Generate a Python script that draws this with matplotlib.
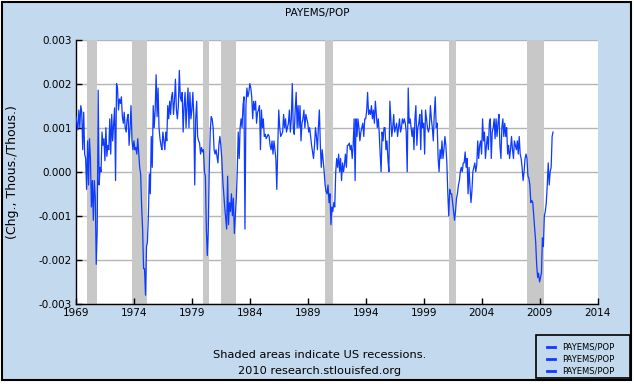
import pandas as pd
import matplotlib
matplotlib.use("Agg")
import matplotlib.pyplot as plt
import matplotlib.dates as mdates
from matplotlib.patches import Rectangle
from matplotlib.lines import Line2D

# monthly change in PAYEMS/POP, in thousandths, Jan 1969 onward
payems_pop_milli = [
    1.25, 1.1, 0.95, 1.4, 1.0, 1.5, 1.35, 0.5, 1.35, 0.4, 0.3, -0.4,        # 1969
    0.7, -0.3, 0.75, 0.3, -0.8, -0.2, -1.1, -0.2, -0.6, -2.1, -1.3, 1.85,   # 1970
    -0.3, 0.1, 0.0, 0.9, 0.6, 0.75, 0.25, 1.0, 0.35, 0.6, 0.5, 1.2,         # 1971
    0.4, 1.3, 0.7, 1.1, 1.45, -0.2, 2.0, 1.9, 1.4, 1.65, 1.55, 1.7,         # 1972
    1.25, 1.1, 1.35, 1.0, 0.9, 1.2, 1.3, 0.6, 1.0, 1.5, 0.7, 0.5,           # 1973
    0.7, 0.5, 0.55, 0.4, 0.75, 0.4, 0.1, -0.05, -0.8, -1.3, -2.2, -2.2,     # 1974
    -2.8, -1.7, -1.6, -1.0, -0.05, -0.5, 0.8, 0.1, 1.5, 1.0, 1.4, 2.2,      # 1975
    1.25, 1.9, 1.0, 0.75, 0.6, 0.5, 0.9, 0.7, 0.5, 0.9, 0.7, 1.5,           # 1976
    1.2, 1.6, 1.3, 1.7, 1.8, 1.3, 1.6, 2.1, 1.4, 1.2, 1.5, 2.3,             # 1977
    1.7, 1.6, 1.8, 0.9, 1.5, 1.8, 1.0, 1.5, 1.9, 1.0, 1.8, 1.2,             # 1978
    1.4, 1.8, 1.3, -0.3, 1.2, 1.6, 0.8, 0.7, 0.65, 0.4, 0.55, 0.45,        # 1979
    0.5, 0.0, -0.1, -1.3, -1.9, -1.3, 0.0, 0.9, 1.25, 1.2, 1.0, 0.5,       # 1980
    0.4, 0.5, 0.35, 0.2, 0.6, 0.8, 0.6, 0.3, -0.2, -0.5, -0.8, -1.05,      # 1981
    -1.3, -0.1, -1.2, -0.7, -0.9, -0.5, -1.0, -0.6, -1.4, -1.0, -0.6, 0.0, # 1982
    0.9, 0.3, 1.0, 1.2, 1.0, 1.5, 1.7, -1.3, 1.5, 1.9, 1.7, 1.8,           # 1983
    2.0, 1.9, 1.7, 1.2, 1.6, 1.4, 1.6, 1.1, 1.35, 1.4, 1.5, 0.5,           # 1984
    1.4, 1.0, 1.2, 0.8, 0.85, 0.75, 0.8, 0.85, 0.8, 0.6, 0.5, 0.7,         # 1985
    0.4, 0.7, 0.5, 0.3, -0.4, 0.6, 1.4, 1.0, 0.8, 0.85, 0.9, 1.3,          # 1986
    1.0, 1.2, 0.9, 1.0, 1.1, 1.4, 0.9, 1.2, 2.0, 1.0, 0.85, 1.4,           # 1987
    1.8, 1.0, 1.5, 1.0, 1.5, 0.7, 1.1, 1.2, 1.4, 1.0, 1.3, 1.2,            # 1988
    1.1, 0.9, 1.0, 0.8, 0.6, 0.45, 0.3, 0.6, 1.0, 0.8, 0.5, 1.0,           # 1989
    1.4, 0.6, 0.1, 0.5, 0.25, 0.0, -0.3, -0.45, -0.5, -0.3, -0.7, -0.5,    # 1990
    -1.2, -0.8, -0.9, -0.7, -0.8, 0.0, 0.3, 0.1, 0.4, 0.0, 0.3, -0.2,      # 1991
    0.2, 0.0, 0.15, 0.4, 0.1, 0.6, 0.6, 0.65, 0.5, 0.6, 0.3, 0.6,          # 1992
    1.2, -0.2, 1.2, 0.8, 1.2, 1.0, 0.7, 0.9, 1.0, 1.1, 0.8, 1.2,           # 1993
    1.2, 1.4, 1.8, 1.3, 1.4, 1.3, 1.5, 1.2, 1.4, 1.1, 1.6, 1.3,            # 1994
    1.0, 1.2, 0.9, 0.4, 0.0, 0.9, 0.7, 1.0, 1.0, 0.5, 0.7, 0.3,            # 1995
    0.0, 1.6, 1.2, 0.8, 1.0, 1.3, 0.9, 1.0, 1.1, 0.8, 1.0, 1.2,            # 1996
    0.9, 1.0, 1.2, 1.1, 1.2, 1.1, 0.9, 0.0, 1.9, 1.1, 1.2, 1.0,            # 1997
    0.8, 1.0, 0.5, 1.2, 1.5, 0.6, 1.0, 1.1, 1.3, 0.5, 1.4, 1.0,            # 1998
    1.1, 0.4, 1.4, 1.2, 1.0, 0.9, 1.0, 1.5, 1.2, 1.0, 0.7, 1.3,            # 1999
    1.7, 1.0, 1.1, 0.3, 0.0, 0.5, 0.3, 0.7, 0.3, 0.5, 0.8, 0.6,            # 2000
    0.2, -0.5, -1.0, -0.4, -0.5, -0.5, -0.7, -0.9, -1.1, -0.9, -0.6, -0.5, # 2001
    -0.3, -0.2, 0.0, 0.1, 0.0, 0.2, 0.2, 0.45, 0.1, 0.3, -0.5, 0.1,        # 2002
    -0.35, -0.7, -0.45, 0.0, 0.1, 0.2, 0.0, 0.15, 0.7, 0.3, 0.6, 0.7,      # 2003
    0.4, 1.2, 0.7, 0.9, 0.3, 0.6, 0.8, 0.5, 1.1, 1.2, 0.3, 0.9,            # 2004
    1.0, 1.2, 0.75, 1.2, 0.8, 1.1, 1.3, 0.6, 0.3, 1.0, 1.2, 0.8,           # 2005
    1.1, 0.8, 1.0, 0.4, 0.6, 0.3, 0.5, 0.8, 0.5, 0.3, 0.7, 0.6,            # 2006
    0.5, 0.7, 0.4, 0.8, 0.4, 0.3, 0.1, -0.2, 0.0, 0.3, 0.4, 0.3,           # 2007
    -0.1, -0.15, -0.3, -0.7, -0.65, -0.7, -1.0, -1.3, -1.6, -2.1, -2.4, -2.3,  # 2008
    -2.5, -2.4, -2.3, -1.5, -1.7, -1.0, -0.9, -0.7, -0.3, 0.2, -0.3, 0.0,  # 2009
    0.1, 0.8, 0.9,                                                          # 2010
]
series_start = "1969-01-01"

recessions = [
    ("1969-12-01", "1970-11-01"),
    ("1973-11-01", "1975-03-01"),
    ("1980-01-01", "1980-07-01"),
    ("1981-07-01", "1982-11-01"),
    ("1990-07-01", "1991-03-01"),
    ("2001-03-01", "2001-11-01"),
    ("2007-12-01", "2009-06-01"),
]

x_tick_years = [1969, 1974, 1979, 1984, 1989, 1994, 1999, 2004, 2009, 2014]
y_ticks = [-0.003, -0.002, -0.001, 0.0, 0.001, 0.002, 0.003]
series_name = "PAYEMS/POP"
legend_labels = [series_name] * 3

BG = "#c3d9ed"
LINE = "#0d3bff"
SHADE = "#c8c8c8"
W, H = 634, 384

dates = pd.date_range(series_start, periods=len(payems_pop_milli), freq="MS")
values = [v / 1000 for v in payems_pop_milli]

fig = plt.figure(figsize=(W / 100, H / 100), dpi=100, facecolor="white")
# outer light-blue panel with black border
fig.patches.append(Rectangle((2 / W, 4 / H), 629 / W, 378 / H,
                             transform=fig.transFigure, facecolor=BG,
                             edgecolor="black", linewidth=1.5, zorder=-10))

ax = fig.add_axes([76 / W, 80 / H, 521.5 / W, 264.5 / H])
ax.set_facecolor("white")

for start, end in recessions:
    ax.axvspan(pd.Timestamp(start), pd.Timestamp(end), color=SHADE, lw=0, zorder=1)

for yt in y_ticks:
    ax.axhline(yt, color="#b4b4b4", lw=1, zorder=0.5)

ax.plot(dates, values, color=LINE, lw=0.9, zorder=3)

ax.set_xlim(pd.Timestamp("1969-01-01"), pd.Timestamp("2014-01-01"))
ax.set_ylim(-0.003, 0.003)
ax.set_xticks([pd.Timestamp(f"{y}-01-01") for y in x_tick_years])
ax.xaxis.set_major_formatter(mdates.DateFormatter("%Y"))
ax.set_yticks(y_ticks)
ax.set_yticklabels([f"{t:.3f}" for t in y_ticks])
ax.tick_params(direction="in", length=4, width=1, labelsize=7.5, pad=3)

for side in ("top", "right"):
    ax.spines[side].set_visible(False)
for side in ("left", "bottom"):
    ax.spines[side].set_linewidth(1)

ax.set_ylabel("(Chg., Thous./Thous.)", fontsize=9)
ax.yaxis.set_label_coords((19 - 76) / 521.5, 0.5)

fig.text(0.5, 1 - 13 / H, series_name, ha="center", va="center", fontsize=7.5)
fig.text(320 / W, 1 - 355 / H, "Shaded areas indicate US recessions.",
         ha="center", va="center", fontsize=8.2)
fig.text(320 / W, 1 - 371 / H, "2010 research.stlouisfed.org",
         ha="center", va="center", fontsize=8.2)

# legend box, bottom right
fig.patches.append(Rectangle((536 / W, 1 - 378 / H), 94 / W, 43 / H,
                             transform=fig.transFigure, facecolor=BG,
                             edgecolor="black", linewidth=1.2, zorder=5))
for i, lab in enumerate(legend_labels):
    ly = 1 - (347 + 12 * i) / H
    fig.lines.append(Line2D([547 / W, 555 / W], [ly, ly], transform=fig.transFigure,
                            color=LINE, lw=2, zorder=6))
    fig.text(562 / W, ly, lab, ha="left", va="center", fontsize=6, zorder=6)

fig.savefig("out.png", dpi=100, facecolor=fig.get_facecolor())
